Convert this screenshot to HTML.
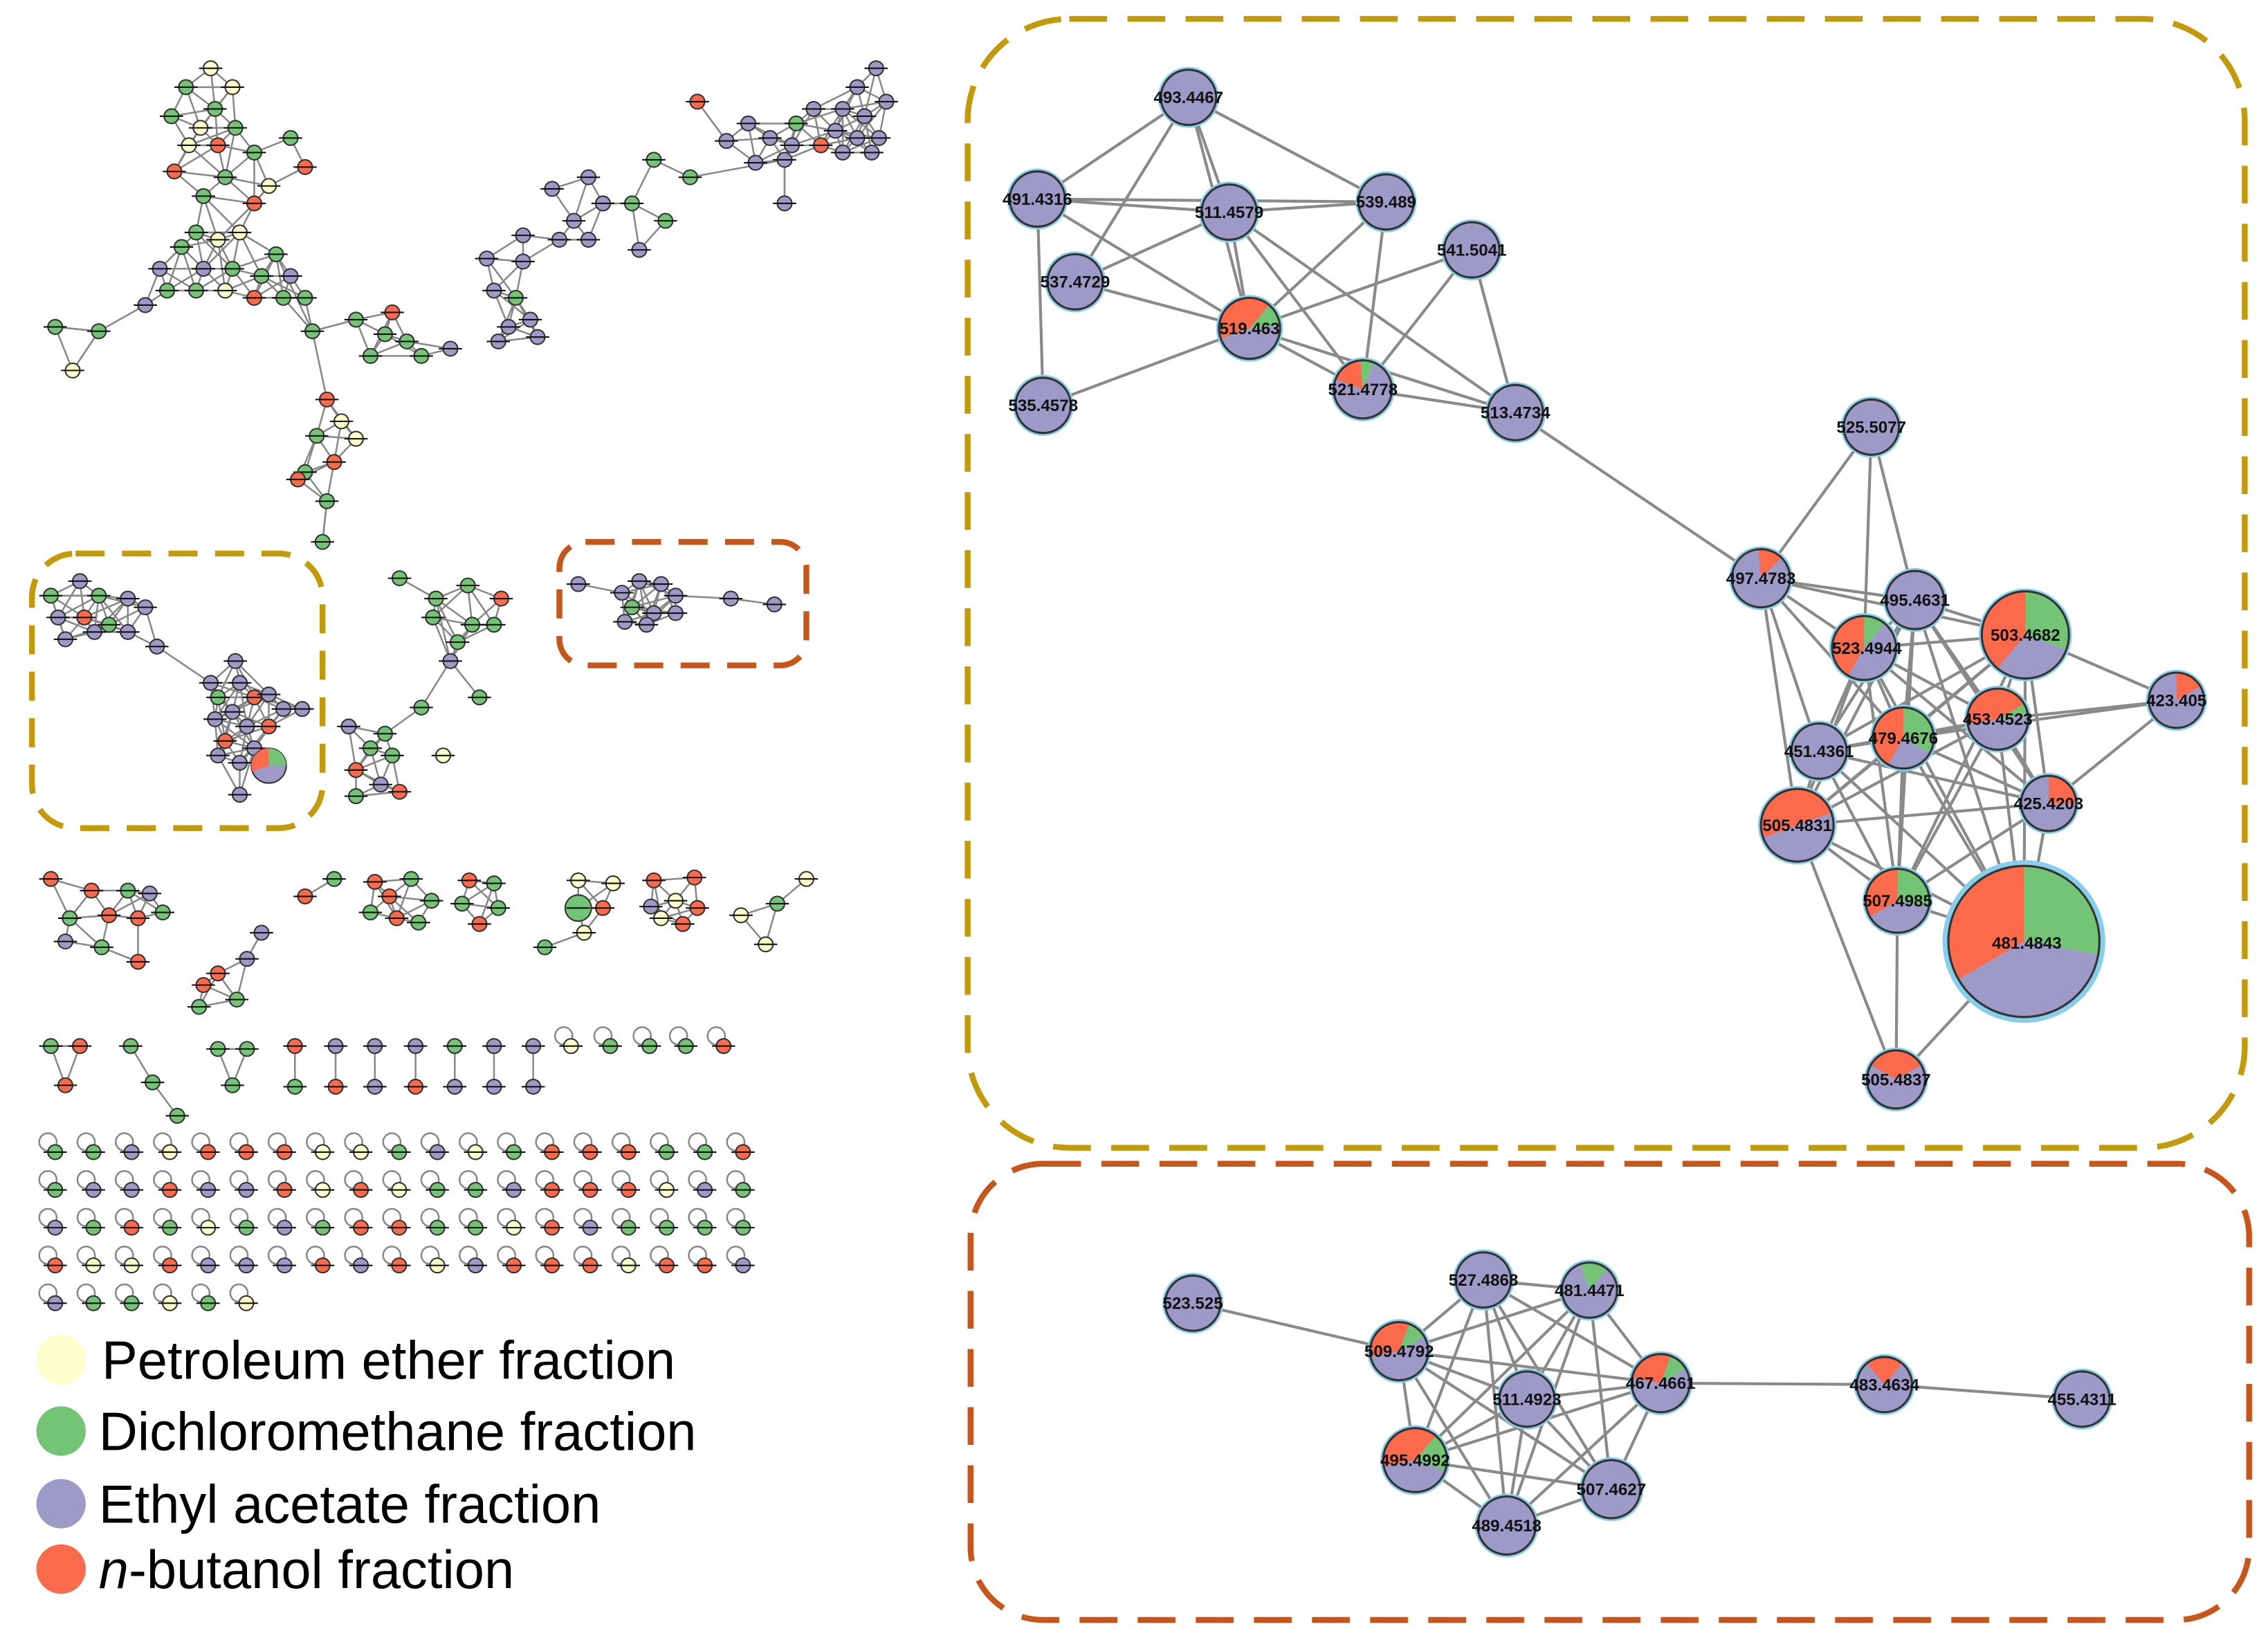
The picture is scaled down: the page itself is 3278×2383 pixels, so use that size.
<!DOCTYPE html>
<html><head><meta charset="utf-8">
<style>
html,body{margin:0;padding:0;background:#fff;}
svg{display:block;}
.lb{font-family:"Liberation Sans",sans-serif;font-size:11.5px;font-weight:bold;fill:#111;text-anchor:middle;}
.lg{font-family:"Liberation Sans",sans-serif;font-size:37px;fill:#000;}
</style></head>
<body>
<svg id="s" xmlns="http://www.w3.org/2000/svg" width="3278" height="2383" viewBox="0 0 1561 1135" preserveAspectRatio="none">
<rect width="1561" height="1135" fill="#fff"/>
<rect x="666" y="13" width="879" height="777" rx="70" fill="none" stroke="#c29a0a" stroke-width="4" stroke-dasharray="26 14"/>
<rect x="668" y="801" width="880" height="314" rx="50" fill="none" stroke="#c8561a" stroke-width="4" stroke-dasharray="26 14"/>
<rect x="22" y="381" width="200" height="189" rx="30" fill="none" stroke="#c29a0a" stroke-width="4" stroke-dasharray="20 12"/>
<rect x="385" y="373" width="170" height="85" rx="18" fill="none" stroke="#c8561a" stroke-width="4" stroke-dasharray="20 12"/>
<g id="edges"></g>
<g id="nodes"></g>
<circle cx="42" cy="936" r="17" fill="#ffffcc"/>
<circle cx="42" cy="985" r="17" fill="#74c476"/>
<circle cx="42" cy="1035" r="17" fill="#9e9ac8"/>
<circle cx="42" cy="1080" r="17" fill="#fb6a4a"/>
<text class="lg" x="70" y="949">Petroleum ether fraction</text>
<text class="lg" x="68" y="998">Dichloromethane fraction</text>
<text class="lg" x="68" y="1048">Ethyl acetate fraction</text>
<text class="lg" x="68" y="1093"><tspan font-style="italic">n</tspan>-butanol fraction</text>
<g>
<text class="lb" x="818" y="71">493.4467</text>
<text class="lb" x="714" y="141">491.4316</text>
<text class="lb" x="846" y="150">511.4579</text>
<text class="lb" x="954" y="143">539.489</text>
<text class="lb" x="1013" y="176">541.5041</text>
<text class="lb" x="740" y="198">537.4729</text>
<text class="lb" x="860" y="230">519.463</text>
<text class="lb" x="938" y="272">521.4778</text>
<text class="lb" x="718" y="283">535.4578</text>
<text class="lb" x="1043" y="288">513.4734</text>
<text class="lb" x="1288" y="298">525.5077</text>
<text class="lb" x="1212" y="402">497.4783</text>
<text class="lb" x="1318" y="417">495.4631</text>
<text class="lb" x="1394" y="441">503.4682</text>
<text class="lb" x="1285" y="450">523.4944</text>
<text class="lb" x="1498" y="486">423.405</text>
<text class="lb" x="1375" y="499">453.4523</text>
<text class="lb" x="1310" y="512">479.4676</text>
<text class="lb" x="1252" y="521">451.4361</text>
<text class="lb" x="1410" y="557">425.4203</text>
<text class="lb" x="1237" y="572">505.4831</text>
<text class="lb" x="1306" y="624">507.4985</text>
<text class="lb" x="1395" y="653">481.4843</text>
<text class="lb" x="1305" y="747">505.4837</text>
<text class="lb" x="821" y="901">523.525</text>
<text class="lb" x="1021" y="885">527.4868</text>
<text class="lb" x="1094" y="892">481.4471</text>
<text class="lb" x="963" y="934">509.4792</text>
<text class="lb" x="1051" y="967">511.4923</text>
<text class="lb" x="1143" y="956">467.4661</text>
<text class="lb" x="1297" y="957">483.4634</text>
<text class="lb" x="1433" y="967">455.4311</text>
<text class="lb" x="974" y="1009">495.4992</text>
<text class="lb" x="1109" y="1029">507.4627</text>
<text class="lb" x="1037" y="1054">489.4518</text>
</g>
</svg>
<script>
const NS='http://www.w3.org/2000/svg';
const E=document.getElementById('edges'),N=document.getElementById('nodes');
function el(t,a,p){const e=document.createElementNS(NS,t);for(const k in a)e.setAttribute(k,a[k]);p.appendChild(e);return e;}
const P='#9e9ac8',R='#fb6a4a',G='#74c476',Y='#ffffcc';
function arc(cx,cy,r,a0,a1,c,p){
 const d=Math.PI/180;const x0=cx+r*Math.sin(a0*d),y0=cy-r*Math.cos(a0*d),x1=cx+r*Math.sin(a1*d),y1=cy-r*Math.cos(a1*d);
 el('path',{d:`M${cx},${cy}L${x0},${y0}A${r},${r} 0 ${(a1-a0)>180?1:0} 1 ${x1},${y1}Z`,fill:c},p);}
const RN={
'493.4467':[818,67,19],'491.4316':[714,137,19],'511.4579':[846,146,19],'539.489':[954,139,19],'541.5041':[1013,172,19],
'537.4729':[740,194,19],'519.463':[860,226,21,[[R,-110,40],[G,40,85]]],'521.4778':[938,268,20,[[R,-70,-5],[G,-5,22]]],
'535.4578':[718,279,19],'513.4734':[1043,284,19],'525.5077':[1288,294,19],'497.4783':[1212,398,20,[[R,-5,45]]],
'495.4631':[1318,413,20],'503.4682':[1394,437,30,[[G,0,110],[R,220,360]]],'523.4944':[1283,446,22,[[R,-150,0],[G,0,40]]],
'423.405':[1498,482,19,[[R,0,60]]],'453.4523':[1375,495,21,[[R,-100,60],[G,60,80]]],'479.4676':[1310,508,21,[[R,-150,0],[G,0,120]]],
'451.4361':[1252,517,19],'425.4203':[1410,553,19,[[R,0,90]]],'505.4831':[1237,568,25,[[R,-110,70]]],
'507.4985':[1306,620,22,[[R,-120,0],[G,0,100]]],'481.4843':[1393,648,52,[[G,0,100],[R,240,360]]],'505.4837':[1305,743,20,[[R,-60,60]]],
'523.525':[821,897,19],'527.4868':[1021,881,19],'481.4471':[1094,888,19,[[G,-20,40]]],'509.4792':[963,930,20,[[R,-100,20],[G,20,60]]],
'511.4923':[1051,963,19],'467.4661':[1143,952,20,[[R,-80,20],[G,20,60]]],'483.4634':[1297,953,19,[[R,-40,40]]],
'455.4311':[1433,963,19],'495.4992':[974,1005,22,[[R,-100,40],[G,40,110]]],'507.4627':[1109,1025,20],'489.4518':[1037,1050,20]};
const RE=[];
function ed(a,b){RE.push([a,b]);}
[['493.4467','491.4316'],['493.4467','511.4579'],['493.4467','537.4729'],['493.4467','539.489'],['493.4467','519.463'],
['491.4316','511.4579'],['491.4316','519.463'],['491.4316','539.489'],['511.4579','539.489'],['511.4579','519.463'],['511.4579','521.4778'],
['511.4579','513.4734'],['539.489','519.463'],['539.489','521.4778'],['541.5041','519.463'],['541.5041','521.4778'],['541.5041','513.4734'],
['537.4729','519.463'],['491.4316','535.4578'],['519.463','521.4778'],['519.463','513.4734'],['521.4778','513.4734'],['535.4578','519.463'],
['537.4729','511.4579'],['513.4734','497.4783'],['525.5077','497.4783'],['525.5077','523.4944'],['525.5077','495.4631'],
['497.4783','503.4682'],['497.4783','505.4831'],['497.4783','451.4361'],['497.4783','495.4631'],['497.4783','523.4944'],['497.4783','479.4676'],
['423.405','503.4682'],['423.405','453.4523'],['423.405','425.4203'],['423.405','479.4676'],
['505.4837','507.4985'],['505.4837','505.4831'],['505.4837','481.4843'],
['523.525','509.4792'],['467.4661','483.4634'],['483.4634','455.4311']].forEach(p=>ed(p[0],p[1]));
function clique(a){for(let i=0;i<a.length;i++)for(let j=i+1;j<a.length;j++)ed(a[i],a[j]);}
clique(['495.4631','523.4944','503.4682','479.4676','453.4523','451.4361','425.4203','505.4831','507.4985','481.4843']);
clique(['527.4868','481.4471','509.4792','511.4923','467.4661','495.4992','507.4627','489.4518']);
RE.forEach(([a,b])=>{const A=RN[a],B=RN[b];el('line',{x1:A[0],y1:A[1],x2:B[0],y2:B[1],stroke:'#8a8a8a','stroke-width':2},E);});
for(const k in RN){const [x,y,r,sl]=RN[k];
 el('circle',{cx:x,cy:y,r:r+(r>40?4:2),fill:'#87ceeb'},N);
 el('circle',{cx:x,cy:y,r:r,fill:P},N);
 (sl||[]).forEach(s=>arc(x,y,r,s[1],s[2],s[0],N));
 el('circle',{cx:x,cy:y,r:r,fill:'none',stroke:'#333','stroke-width':1.5},N);}
let seed=7;function rnd(){seed=(seed*9301+49297)%233280;return seed/233280;}
function pick(w){let t=rnd(),s=0;for(const [c,p] of w){s+=p;if(t<s)return c;}return w[w.length-1][0];}
function group(pts,w,th,extra){
 for(let i=0;i<pts.length;i++)for(let j=i+1;j<pts.length;j++){const dx=pts[i][0]-pts[j][0],dy=pts[i][1]-pts[j][1];
  if(Math.hypot(dx,dy)<th)el('line',{x1:pts[i][0],y1:pts[i][1],x2:pts[j][0],y2:pts[j][1],stroke:'#888','stroke-width':1.2},E);}
 (extra||[]).forEach(([a,b])=>el('line',{x1:pts[a][0],y1:pts[a][1],x2:pts[b][0],y2:pts[b][1],stroke:'#888','stroke-width':1.2},E));
 pts.forEach(p=>small(p[0],p[1],p[2]||5,pick(w)));}
function small(x,y,r,c){el('circle',{cx:x,cy:y,r:r,fill:c,stroke:'#333','stroke-width':1},N);
 el('line',{x1:x-8,y1:y,x2:x+8,y2:y,stroke:'#111','stroke-width':1},N);}
const wA=[[G,.45],[Y,.2],[R,.25],[P,.1]],wB=[[P,.75],[R,.1],[G,.15]],wM=[[G,.45],[P,.2],[R,.25],[Y,.1]];
group([[145,47],[160,60],[128,60],[148,75],[118,80],[138,88],[162,88],[150,100],[130,100],[175,105],[200,95],[210,115],[120,118],[155,122],[185,128],[140,135],[175,140],[135,160],[150,165],[165,160],[125,170],[190,175],[110,185],[140,185],[160,185],[180,190],[200,190],[115,200],[135,200],[155,200],[175,205],[195,205],[210,205],[100,210],[38,225],[68,228],[50,255],[215,228],[245,220],[270,215],[255,245],[280,235],[290,245],[310,240],[265,230],[225,275],[235,290],[218,300],[245,302],[210,325],[230,318],[205,330],[225,345],[222,373]],wA,36,[[34,35],[35,36],[35,33],[21,37],[37,38],[37,45],[45,46],[52,53],[16,14]]);
group([[603,47],[590,60],[610,70],[580,75],[595,80],[560,75],[548,85],[575,90],[590,95],[605,95],[545,100],[565,100],[580,105],[600,105],[530,95],[515,85],[540,110],[520,112],[500,97],[480,70],[475,122],[450,110],[435,140],[458,152],[440,172],[405,122],[380,130],[415,140],[395,152],[360,162],[385,165],[405,165],[335,178],[360,180],[340,200],[355,205],[365,220],[350,225],[370,232],[343,235],[540,140]],wB,34,[[18,19],[20,16],[40,16]]);
group([[35,410],[55,400],[68,410],[88,412],[100,418],[40,425],[58,425],[75,430],[45,440],[65,435],[88,435],[108,445],[145,470],[162,455],[150,480],[165,470],[175,480],[160,490],[185,478],[195,488],[148,495],[170,500],[185,500],[155,510],[175,515],[150,520],[165,525],[208,488],[165,547]],wB,34,[[11,12]]);
el('circle',{cx:185,cy:527,r:12,fill:P,stroke:'#333','stroke-width':1},N);arc(185,527,12,-110,0,R,N);arc(185,527,12,0,90,G,N);
group([[275,398],[300,412],[322,403],[298,425],[345,412],[325,430],[315,442],[340,430],[310,455],[330,480],[290,487],[265,505],[240,500],[255,515],[270,520],[245,530],[262,540],[275,545],[245,548],[305,520]],wM,34,[[1,8],[8,10]]);
group([[398,402],[428,408],[440,400],[455,402],[465,410],[435,418],[450,422],[465,422],[445,430],[430,428],[503,412],[533,416]],wB,32,[[4,10]]);
group([[35,605],[63,613],[88,613],[103,615],[48,632],[75,630],[95,632],[112,628],[70,652],[95,662],[45,648]],[[R,.5],[G,.4],[P,.1]],32);
group([[230,605],[210,617],[180,642],[170,660],[150,670],[140,678],[163,688],[137,693]],[[R,.5],[G,.3],[P,.2]],30);
group([[258,607],[283,605],[268,617],[255,628],[273,632],[297,620],[288,635]],[[G,.7],[R,.3]],30);
group([[323,606],[340,608],[318,622],[343,625],[330,636]],[[G,.7],[R,.3]],30);
group([[398,606],[422,608],[398,625,9],[415,625],[402,642],[375,652]],[[G,.5],[Y,.3],[R,.2]],30);
group([[450,606],[478,604],[448,624],[465,620],[480,625],[455,632],[470,636]],[[R,.5],[Y,.2],[P,.3]],30);
group([[555,605],[535,622],[510,630],[527,650]],[[Y,.5],[G,.3],[R,.2]],30);
group([[35,720],[55,720],[45,747]],[[R,.6],[G,.4]],30);
group([[90,720],[105,745],[122,768]],[[G,1]],30);
group([[150,722],[170,722],[160,747]],[[G,1]],30);
[203,231,258,286,313,340,367].forEach(x=>group([[x,720],[x,748]],[[P,.5],[G,.3],[R,.2]],30));
function loop(x,y,c){el('circle',{cx:x-5,cy:y-7,r:6,fill:'none',stroke:'#888','stroke-width':1.2},E);small(x,y,5,c);}
[393,420,447,472,498].forEach(x=>loop(x,720,pick([[G,.4],[Y,.3],[R,.3]])));
const w5=[[Y,.2],[R,.25],[G,.3],[P,.25]];
for(let r=0;r<4;r++)for(let i=0;i<19;i++)loop(38+i*26.3,793+r*26,pick(w5));
for(let i=0;i<6;i++)loop(38+i*26.3,897,pick(w5));
</script>
</body></html>
